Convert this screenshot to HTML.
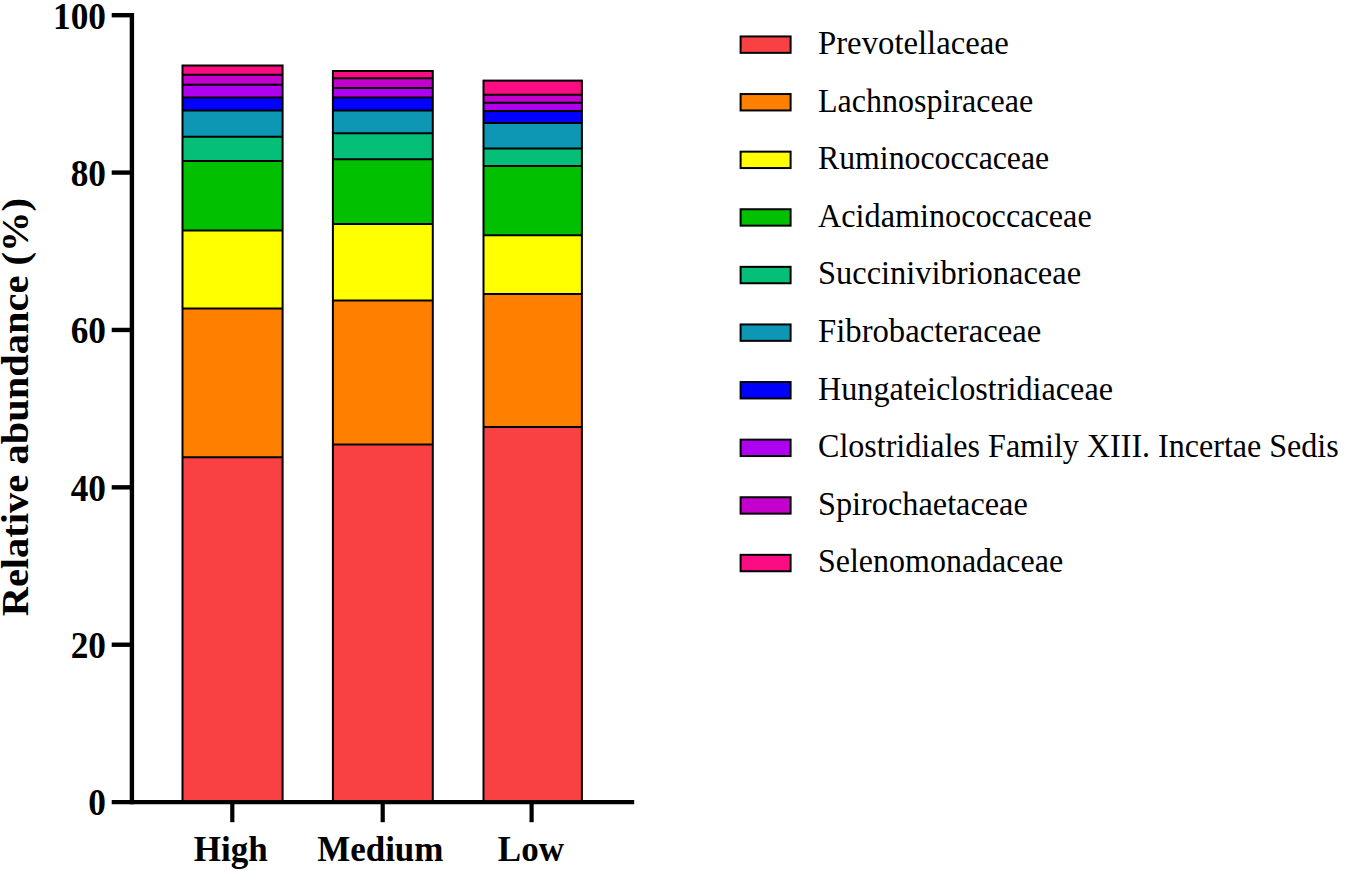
<!DOCTYPE html>
<html><head><meta charset="utf-8"><style>
html,body{margin:0;padding:0;background:#fff;width:1350px;height:871px;overflow:hidden;}
svg{display:block;}
text{font-family:"Liberation Serif",serif;fill:#000;}
.yl{font-weight:bold;font-size:35.3px;}
.xl{font-weight:bold;font-size:35px;}
.yt{font-weight:bold;font-size:40px;}
.lg{font-size:32px;}
</style></head><body>
<svg width="1350" height="871" viewBox="0 0 1350 871">
<rect width="1350" height="871" fill="#fff"/>
<rect x="182.50" y="65.50" width="100.10" height="9.30" fill="#FC0C82"/>
<rect x="182.50" y="74.80" width="100.10" height="9.90" fill="#C400CC"/>
<rect x="182.50" y="84.70" width="100.10" height="12.90" fill="#B000F0"/>
<rect x="182.50" y="97.60" width="100.10" height="13.00" fill="#0000FF"/>
<rect x="182.50" y="110.60" width="100.10" height="26.20" fill="#0E97B5"/>
<rect x="182.50" y="136.80" width="100.10" height="24.30" fill="#05BE77"/>
<rect x="182.50" y="161.10" width="100.10" height="69.50" fill="#00C000"/>
<rect x="182.50" y="230.60" width="100.10" height="77.90" fill="#FFFF00"/>
<rect x="182.50" y="308.50" width="100.10" height="148.70" fill="#FF8000"/>
<rect x="182.50" y="457.20" width="100.10" height="344.80" fill="#F94043"/>
<line x1="182.50" y1="74.80" x2="282.60" y2="74.80" stroke="#000" stroke-width="2.0"/>
<line x1="182.50" y1="84.70" x2="282.60" y2="84.70" stroke="#000" stroke-width="2.0"/>
<line x1="182.50" y1="97.60" x2="282.60" y2="97.60" stroke="#000" stroke-width="2.0"/>
<line x1="182.50" y1="110.60" x2="282.60" y2="110.60" stroke="#000" stroke-width="2.0"/>
<line x1="182.50" y1="136.80" x2="282.60" y2="136.80" stroke="#000" stroke-width="2.0"/>
<line x1="182.50" y1="161.10" x2="282.60" y2="161.10" stroke="#000" stroke-width="2.0"/>
<line x1="182.50" y1="230.60" x2="282.60" y2="230.60" stroke="#000" stroke-width="2.0"/>
<line x1="182.50" y1="308.50" x2="282.60" y2="308.50" stroke="#000" stroke-width="2.0"/>
<line x1="182.50" y1="457.20" x2="282.60" y2="457.20" stroke="#000" stroke-width="2.0"/>
<rect x="182.50" y="65.50" width="100.10" height="736.50" fill="none" stroke="#000" stroke-width="2.0"/>
<rect x="332.90" y="71.00" width="99.90" height="7.30" fill="#FC0C82"/>
<rect x="332.90" y="78.30" width="99.90" height="9.70" fill="#C400CC"/>
<rect x="332.90" y="88.00" width="99.90" height="9.60" fill="#B000F0"/>
<rect x="332.90" y="97.60" width="99.90" height="13.00" fill="#0000FF"/>
<rect x="332.90" y="110.60" width="99.90" height="22.70" fill="#0E97B5"/>
<rect x="332.90" y="133.30" width="99.90" height="25.90" fill="#05BE77"/>
<rect x="332.90" y="159.20" width="99.90" height="64.70" fill="#00C000"/>
<rect x="332.90" y="223.90" width="99.90" height="76.70" fill="#FFFF00"/>
<rect x="332.90" y="300.60" width="99.90" height="144.00" fill="#FF8000"/>
<rect x="332.90" y="444.60" width="99.90" height="357.40" fill="#F94043"/>
<line x1="332.90" y1="78.30" x2="432.80" y2="78.30" stroke="#000" stroke-width="2.0"/>
<line x1="332.90" y1="88.00" x2="432.80" y2="88.00" stroke="#000" stroke-width="2.0"/>
<line x1="332.90" y1="97.60" x2="432.80" y2="97.60" stroke="#000" stroke-width="2.0"/>
<line x1="332.90" y1="110.60" x2="432.80" y2="110.60" stroke="#000" stroke-width="2.0"/>
<line x1="332.90" y1="133.30" x2="432.80" y2="133.30" stroke="#000" stroke-width="2.0"/>
<line x1="332.90" y1="159.20" x2="432.80" y2="159.20" stroke="#000" stroke-width="2.0"/>
<line x1="332.90" y1="223.90" x2="432.80" y2="223.90" stroke="#000" stroke-width="2.0"/>
<line x1="332.90" y1="300.60" x2="432.80" y2="300.60" stroke="#000" stroke-width="2.0"/>
<line x1="332.90" y1="444.60" x2="432.80" y2="444.60" stroke="#000" stroke-width="2.0"/>
<rect x="332.90" y="71.00" width="99.90" height="731.00" fill="none" stroke="#000" stroke-width="2.0"/>
<rect x="483.50" y="80.60" width="98.40" height="14.20" fill="#FC0C82"/>
<rect x="483.50" y="94.80" width="98.40" height="8.00" fill="#C400CC"/>
<rect x="483.50" y="102.80" width="98.40" height="8.10" fill="#B000F0"/>
<rect x="483.50" y="110.90" width="98.40" height="12.10" fill="#0000FF"/>
<rect x="483.50" y="123.00" width="98.40" height="25.40" fill="#0E97B5"/>
<rect x="483.50" y="148.40" width="98.40" height="17.50" fill="#05BE77"/>
<rect x="483.50" y="165.90" width="98.40" height="69.30" fill="#00C000"/>
<rect x="483.50" y="235.20" width="98.40" height="58.90" fill="#FFFF00"/>
<rect x="483.50" y="294.10" width="98.40" height="132.90" fill="#FF8000"/>
<rect x="483.50" y="427.00" width="98.40" height="375.00" fill="#F94043"/>
<line x1="483.50" y1="94.80" x2="581.90" y2="94.80" stroke="#000" stroke-width="2.0"/>
<line x1="483.50" y1="102.80" x2="581.90" y2="102.80" stroke="#000" stroke-width="2.0"/>
<line x1="483.50" y1="110.90" x2="581.90" y2="110.90" stroke="#000" stroke-width="2.0"/>
<line x1="483.50" y1="123.00" x2="581.90" y2="123.00" stroke="#000" stroke-width="2.0"/>
<line x1="483.50" y1="148.40" x2="581.90" y2="148.40" stroke="#000" stroke-width="2.0"/>
<line x1="483.50" y1="165.90" x2="581.90" y2="165.90" stroke="#000" stroke-width="2.0"/>
<line x1="483.50" y1="235.20" x2="581.90" y2="235.20" stroke="#000" stroke-width="2.0"/>
<line x1="483.50" y1="294.10" x2="581.90" y2="294.10" stroke="#000" stroke-width="2.0"/>
<line x1="483.50" y1="427.00" x2="581.90" y2="427.00" stroke="#000" stroke-width="2.0"/>
<rect x="483.50" y="80.60" width="98.40" height="721.40" fill="none" stroke="#000" stroke-width="2.0"/>
<line x1="131.9" y1="12.9" x2="131.9" y2="804.2" stroke="#000" stroke-width="4.4"/>
<line x1="111.7" y1="802.1" x2="634.2" y2="802.1" stroke="#000" stroke-width="4.4"/>
<line x1="111.7" y1="644.72" x2="131.9" y2="644.72" stroke="#000" stroke-width="4.4"/>
<line x1="111.7" y1="487.34" x2="131.9" y2="487.34" stroke="#000" stroke-width="4.4"/>
<line x1="111.7" y1="329.96" x2="131.9" y2="329.96" stroke="#000" stroke-width="4.4"/>
<line x1="111.7" y1="172.58" x2="131.9" y2="172.58" stroke="#000" stroke-width="4.4"/>
<line x1="111.7" y1="15.20" x2="131.9" y2="15.20" stroke="#000" stroke-width="4.4"/>
<line x1="232.3" y1="802" x2="232.3" y2="822.2" stroke="#000" stroke-width="4.2"/>
<line x1="382.7" y1="802" x2="382.7" y2="822.2" stroke="#000" stroke-width="4.2"/>
<line x1="531.6" y1="802" x2="531.6" y2="822.2" stroke="#000" stroke-width="4.2"/>
<text transform="translate(106.0,815.40) scale(1,1.046)" text-anchor="end" class="yl">0</text>
<text transform="translate(106.0,658.02) scale(1,1.046)" text-anchor="end" class="yl">20</text>
<text transform="translate(106.0,500.64) scale(1,1.046)" text-anchor="end" class="yl">40</text>
<text transform="translate(106.0,343.26) scale(1,1.046)" text-anchor="end" class="yl">60</text>
<text transform="translate(106.0,185.88) scale(1,1.046)" text-anchor="end" class="yl">80</text>
<text transform="translate(106.0,28.50) scale(1,1.046)" text-anchor="end" class="yl">100</text>
<text transform="translate(230.7,861.0) scale(1,1.04)" text-anchor="middle" class="xl">High</text>
<text transform="translate(380.3,861.0) scale(1,1.04)" text-anchor="middle" class="xl">Medium</text>
<text transform="translate(530.9,861.0) scale(1,1.04)" text-anchor="middle" class="xl">Low</text>
<text transform="translate(27.9,407.2) rotate(-90) scale(1.012,0.935)" text-anchor="middle" class="yt">Relative abundance (%)</text>
<rect x="740.6" y="36.45" width="50" height="16.4" fill="#F94043" stroke="#000" stroke-width="2"/>
<text transform="translate(818.0,54.00) scale(1,1.06)" class="lg" textLength="190.87" lengthAdjust="spacingAndGlyphs">Prevotellaceae</text>
<rect x="740.6" y="94.05" width="50" height="16.4" fill="#FF8000" stroke="#000" stroke-width="2"/>
<text transform="translate(818.0,111.60) scale(1,1.06)" class="lg" textLength="215.18" lengthAdjust="spacingAndGlyphs">Lachnospiraceae</text>
<rect x="740.6" y="151.65" width="50" height="16.4" fill="#FFFF00" stroke="#000" stroke-width="2"/>
<text transform="translate(818.0,169.20) scale(1,1.06)" class="lg" textLength="231.16" lengthAdjust="spacingAndGlyphs">Ruminococcaceae</text>
<rect x="740.6" y="209.25" width="50" height="16.4" fill="#00C000" stroke="#000" stroke-width="2"/>
<text transform="translate(818.0,226.80) scale(1,1.06)" class="lg" textLength="273.70" lengthAdjust="spacingAndGlyphs">Acidaminococcaceae</text>
<rect x="740.6" y="266.85" width="50" height="16.4" fill="#05BE77" stroke="#000" stroke-width="2"/>
<text transform="translate(818.0,284.40) scale(1,1.06)" class="lg" textLength="263.03" lengthAdjust="spacingAndGlyphs">Succinivibrionaceae</text>
<rect x="740.6" y="324.45" width="50" height="16.4" fill="#0E97B5" stroke="#000" stroke-width="2"/>
<text transform="translate(818.0,342.00) scale(1,1.06)" class="lg" textLength="223.33" lengthAdjust="spacingAndGlyphs">Fibrobacteraceae</text>
<rect x="740.6" y="382.05" width="50" height="16.4" fill="#0000FF" stroke="#000" stroke-width="2"/>
<text transform="translate(818.0,399.60) scale(1,1.06)" class="lg" textLength="294.97" lengthAdjust="spacingAndGlyphs">Hungateiclostridiaceae</text>
<rect x="740.6" y="439.65" width="50" height="16.4" fill="#B000F0" stroke="#000" stroke-width="2"/>
<text transform="translate(818.0,457.20) scale(1,1.06)" class="lg" textLength="520.76" lengthAdjust="spacingAndGlyphs">Clostridiales Family XIII. Incertae Sedis</text>
<rect x="740.6" y="497.25" width="50" height="16.4" fill="#C400CC" stroke="#000" stroke-width="2"/>
<text transform="translate(818.0,514.80) scale(1,1.06)" class="lg" textLength="209.78" lengthAdjust="spacingAndGlyphs">Spirochaetaceae</text>
<rect x="740.6" y="554.85" width="50" height="16.4" fill="#FC0C82" stroke="#000" stroke-width="2"/>
<text transform="translate(818.0,572.40) scale(1,1.06)" class="lg" textLength="245.10" lengthAdjust="spacingAndGlyphs">Selenomonadaceae</text>
</svg>
</body></html>
